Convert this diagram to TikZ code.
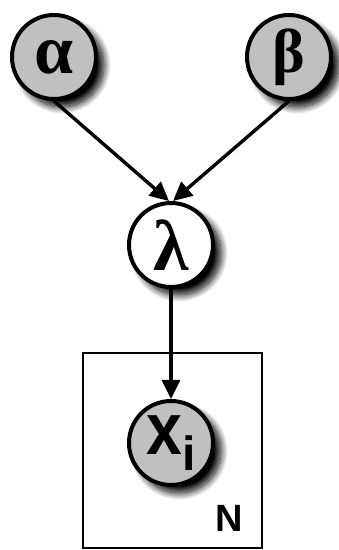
\documentclass[tikz,border=0pt]{standalone}
\usepackage{fontspec}
\newfontfamily\grk{Liberation Serif}
\newfontfamily\ssf{Liberation Sans}
\usetikzlibrary{arrows.meta,shadows.blur}
\definecolor{nodegray}{RGB}{192,192,192}
\tikzset{
  var/.style={circle, draw=black, line width=4pt, minimum size=84pt, inner sep=0pt,
    blur shadow={shadow xshift=8pt, shadow yshift=-8pt, shadow blur steps=16, shadow blur radius=7pt, shadow opacity=100}},
  obs/.style={var, fill=nodegray},
  lat/.style={var, fill=white},
  edge/.style={line width=3.4pt, -{Triangle[length=19pt,width=18pt]}},
  plate/.style={draw=black, line width=1.8pt}
}
\begin{document}
\begin{tikzpicture}[x=1pt,y=1pt]
\useasboundingbox (0,0) rectangle (339,550);
\node[plate, minimum width=179pt, minimum height=195pt, inner sep=0pt] (p) at (172.5,99.5) {};
\node[font=\ssf\bfseries\fontsize{38}{38}\selectfont] (n) at (229,32) {N};
\node[obs] (a) at (54,493) {\grk\bfseries\fontsize{70}{70}\selectfont α};
\node[obs] (b) at (289,493) {\grk\bfseries\fontsize{62}{62}\selectfont β};
\node[lat] (l) at (171,305) {\grk\bfseries\fontsize{72}{72}\selectfont λ};
\node[obs] (x) at (171,107) {\ssf\bfseries\fontsize{70}{70}\selectfont\raisebox{0pt}{\scalebox{0.92}[1.05]{x}}\raisebox{-16pt}{\fontsize{48}{48}\selectfont i}};
\draw[edge] (a.south) -- ([xshift=-2pt]l.north);
\draw[edge] (b.south) -- ([xshift=2pt]l.north);
\draw[edge] (l.south) -- (x.north);
\end{tikzpicture}
\end{document}
